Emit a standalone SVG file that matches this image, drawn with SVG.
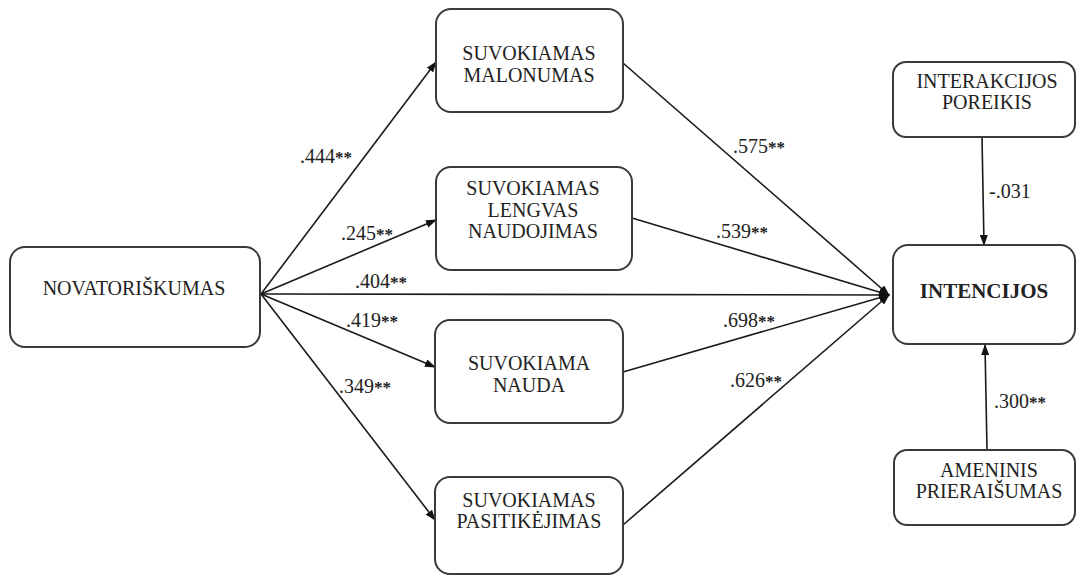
<svg xmlns="http://www.w3.org/2000/svg" width="1077" height="575" viewBox="0 0 1077 575">
<defs>
<style>
.box{fill:#fff;stroke:#3a3a3a;stroke-width:2}
text{font-family:'Liberation Serif','Tinos','DejaVu Serif',serif;font-size:20px;fill:#222}
.t{text-anchor:middle}
.b{font-weight:bold;font-size:21px}
.st{font-weight:bold;font-size:17px}
.c{stroke:#1a1a1a;stroke-width:1.6;fill:none;marker-end:url(#ah)}
</style>
<marker id="ah" markerUnits="userSpaceOnUse" markerWidth="11" markerHeight="8" refX="10" refY="4" orient="auto">
<path d="M0,0 L11,4 L0,8 z" fill="#111"/>
</marker>
</defs>
<rect width="1077" height="575" fill="#fff"/>
<g id="connectors">
<line class="c" x1="261" y1="294" x2="436" y2="62"/>
<line class="c" x1="261" y1="294" x2="436" y2="220"/>
<line class="c" x1="261" y1="294" x2="889" y2="295"/>
<line class="c" x1="261" y1="294" x2="435" y2="367"/>
<line class="c" x1="261" y1="294" x2="435" y2="520"/>
<line class="c" x1="623" y1="63" x2="889" y2="295"/>
<line class="c" x1="632" y1="218" x2="889" y2="295"/>
<line class="c" x1="623" y1="372" x2="889" y2="295"/>
<line class="c" x1="623" y1="525" x2="889" y2="295"/>
<line class="c" x1="982" y1="137" x2="984" y2="245"/>
<line class="c" x1="987" y1="450" x2="985" y2="345"/>
</g>
<g id="labels" font-family="Liberation Serif, serif">
<text x="300" y="163">.444<tspan class="st">**</tspan></text>
<text x="341" y="240">.245<tspan class="st">**</tspan></text>
<text x="355" y="288">.404<tspan class="st">**</tspan></text>
<text x="346" y="327">.419<tspan class="st">**</tspan></text>
<text x="339" y="393">.349<tspan class="st">**</tspan></text>
<text x="733" y="153">.575<tspan class="st">**</tspan></text>
<text x="716" y="238">.539<tspan class="st">**</tspan></text>
<text x="723" y="327">.698<tspan class="st">**</tspan></text>
<text x="730" y="387">.626<tspan class="st">**</tspan></text>
<text x="989" y="198">-.031</text>
<text x="994" y="408">.300<tspan class="st">**</tspan></text>
</g>
<g id="novatoriskumas">
<rect class="box" x="10" y="247" width="250" height="100" rx="15"/>
<text class="t" x="134" y="295">NOVATORIŠKUMAS</text>
</g>
<g id="malonumas">
<rect class="box" x="436" y="9" width="187" height="103" rx="15"/>
<text class="t" x="529" y="60">SUVOKIAMAS</text>
<text class="t" x="529" y="82">MALONUMAS</text>
</g>
<g id="lengvas">
<rect class="box" x="436" y="167" width="196" height="103" rx="15"/>
<text class="t" x="533" y="195">SUVOKIAMAS</text>
<text class="t" x="533" y="217">LENGVAS</text>
<text class="t" x="533" y="238">NAUDOJIMAS</text>
</g>
<g id="nauda">
<rect class="box" x="435" y="320" width="188" height="103" rx="15"/>
<text class="t" x="529" y="370">SUVOKIAMA</text>
<text class="t" x="529" y="392">NAUDA</text>
</g>
<g id="pasitikejimas">
<rect class="box" x="435" y="477" width="188" height="97" rx="15"/>
<text class="t" x="529" y="507">SUVOKIAMAS</text>
<text class="t" x="529" y="528">PASITIKĖJIMAS</text>
</g>
<g id="intencijos">
<rect class="box" x="893" y="245" width="182" height="99" rx="15"/>
<text class="t b" x="984" y="298">INTENCIJOS</text>
</g>
<g id="interakcijos">
<rect class="box" x="893" y="62" width="182" height="75" rx="13"/>
<text class="t" x="987" y="88">INTERAKCIJOS</text>
<text class="t" x="987" y="109">POREIKIS</text>
</g>
<g id="ameninis">
<rect class="box" x="894" y="450" width="181" height="75" rx="13"/>
<text class="t" x="989" y="477">AMENINIS</text>
<text class="t" x="989" y="498">PRIERAIŠUMAS</text>
</g>
</svg>
